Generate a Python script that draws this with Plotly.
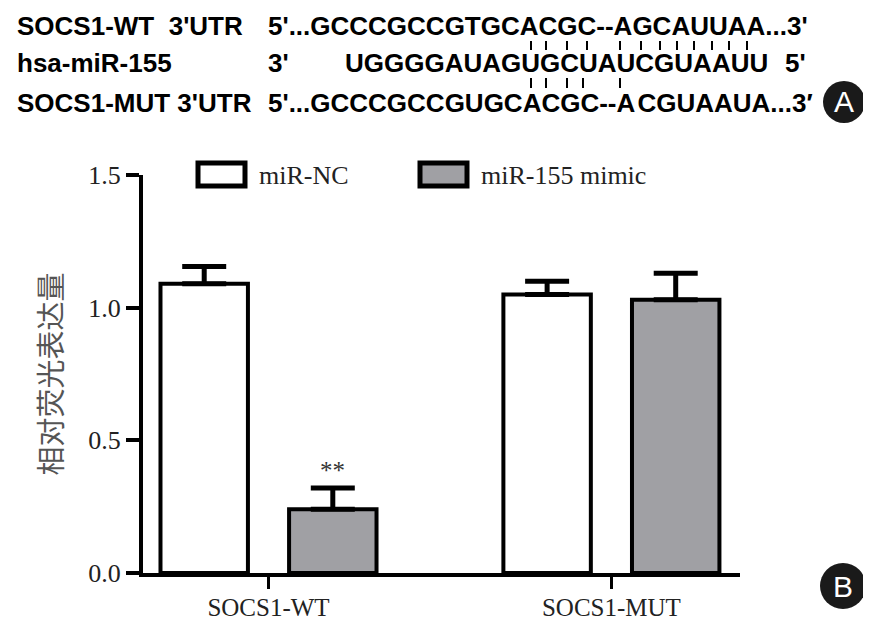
"""Люциферазный тест: SOCS1 3'UTR WT/MUT + miR-155 mimic."""

import plotly.graph_objects as go

categories = ["SOCS1-WT", "SOCS1-MUT"]
nc_mean = [1.09, 1.05]
nc_err = [0.065, 0.05]
mimic_mean = [0.24, 1.03]
mimic_err = [0.08, 0.10]
series_names = ["miR-NC", "miR-155 mimic"]
y_ticks = [0.0, 0.5, 1.0, 1.5]

row_labels = ["SOCS1-WT  3'UTR", "hsa-miR-155", "SOCS1-MUT 3'UTR"]
wt_seq = "5'...GCCCGCCGTGCACGC--AGCAUUAA...3'"
mir_seq = "UGGGGAUAGUGCUAUCGUAAUU"
mut_seq = "5'...GCCCGCCGUGCACGC--A\u200aCGUAAUA...3\u2032"

# у body margin 8px со всех сторон -> фигура на 16px меньше окна
OFF = 8
W, H = 871 - 2 * OFF, 632 - 2 * OFF
L, T = 143 - OFF, 175 - OFF
R, B = W - (740 - OFF), H - (573 - OFF)


def px(x):
    """x на странице -> paper"""
    return (x - OFF - L) / (W - L - R)


def py(y):
    return (H - B - (y - OFF)) / (H - T - B)


SERIF = "Liberation Serif, Times New Roman, serif"
SANS = "Liberation Sans, Arial, sans-serif"
GRAY = "#a0a0a4"

fig = go.Figure()
fig.add_trace(go.Bar(
    x=categories, y=nc_mean, name=series_names[0],
    marker={"color": "white", "line": {"color": "black", "width": 4}},
    error_y={"type": "data", "symmetric": False, "array": nc_err,
             "arrayminus": [0, 0], "color": "black", "thickness": 5, "width": 22},
))
fig.add_trace(go.Bar(
    x=categories, y=mimic_mean, name=series_names[1],
    marker={"color": GRAY, "line": {"color": "black", "width": 4}},
    error_y={"type": "data", "symmetric": False, "array": mimic_err,
             "arrayminus": [0, 0], "color": "black", "thickness": 5, "width": 22},
))

ann = []
shapes = []

# significance mark
ann.append(dict(x=0, y=mimic_mean[0] + mimic_err[0], xref="x", yref="y",
                xshift=64, yshift=2, yanchor="bottom", showarrow=False,
                text="**", font={"family": SERIF, "size": 25, "color": "#333"}))

# legend drawn by hand (boxes are wide rectangles)
for (x0, x1, tx), name, fill in zip(
        [(198, 245, 257), (420, 467, 479)], series_names, ["white", GRAY]):
    shapes.append(dict(type="rect", xref="paper", yref="paper",
                       x0=px(x0), x1=px(x1), y0=py(186), y1=py(163),
                       fillcolor=fill, line={"color": "black", "width": 5}))
    ann.append(dict(x=px(tx), y=py(175), xref="paper", yref="paper",
                    xanchor="left", yanchor="middle", showarrow=False, text=name,
                    font={"family": SERIF, "size": 26, "color": "#222"}))

# sequence alignment block
seq_font = {"family": SANS, "size": 26, "color": "black", "weight": "bold"}
row_y = [26, 63, 103]
for lab, yy in zip(row_labels, row_y):
    ann.append(dict(x=px(15), y=py(yy), xref="paper", yref="paper",
                    xanchor="left", yanchor="middle", showarrow=False,
                    text=lab, font=seq_font))
for txt, xx, yy in [(wt_seq, 266, row_y[0]), ("3'", 266, row_y[1]),
                    (mir_seq, 343, row_y[1]), ("5'", 783, row_y[1]),
                    (mut_seq, 266, row_y[2])]:
    ann.append(dict(x=px(xx), y=py(yy), xref="paper", yref="paper",
                    xanchor="left", yanchor="middle", showarrow=False,
                    text=txt, font=seq_font))

top_pairs = [531, 546, 567, 587, 620, 641, 660, 677, 694, 712, 729, 747]
bot_pairs = [531, 546, 567, 583, 620]
for xx in top_pairs:
    shapes.append(dict(type="line", xref="paper", yref="paper",
                       x0=px(xx), x1=px(xx), y0=py(41), y1=py(50),
                       line={"color": "black", "width": 2}))
for xx in bot_pairs:
    shapes.append(dict(type="line", xref="paper", yref="paper",
                       x0=px(xx), x1=px(xx), y0=py(78), y1=py(88),
                       line={"color": "black", "width": 2}))

# panel badges
for letter, cx, cy, r in [("A", 844, 102, 21), ("B", 843, 586, 23)]:
    shapes.append(dict(type="circle", xref="paper", yref="paper",
                       x0=px(cx - r), x1=px(cx + r), y0=py(cy + r), y1=py(cy - r),
                       fillcolor="#1a1a1a", line={"width": 0}))
    ann.append(dict(x=px(cx), y=py(cy), xref="paper", yref="paper",
                    xanchor="center", yanchor="middle", showarrow=False,
                    text=letter, font={"family": SANS, "size": 30, "color": "white"}))

fig.update_layout(
    width=W, height=H,
    template="plotly_white",
    paper_bgcolor="white", plot_bgcolor="white",
    margin={"l": L, "r": R, "t": T, "b": B},
    barmode="group", bargap=0.25, bargroupgap=0.32,
    showlegend=False,
    annotations=ann,
    shapes=shapes,
    xaxis={
        "range": [-0.366, 1.375], "automargin": False,
        "showgrid": False, "zeroline": False,
        "showline": True, "linecolor": "black", "linewidth": 4,
        "ticks": "outside", "ticklen": 12, "tickwidth": 3, "tickcolor": "black",
        "ticklabelstandoff": -3,
        "tickfont": {"family": SERIF, "size": 25, "color": "#222"},
    },
    yaxis={
        "range": [0, 1.5], "automargin": False,
        "tickvals": y_ticks, "tickformat": ".1f",
        "showgrid": False, "zeroline": False,
        "showline": True, "linecolor": "black", "linewidth": 4,
        "ticks": "outside", "ticklen": 13, "tickwidth": 4, "tickcolor": "black",
        "tickfont": {"family": SERIF, "size": 26, "color": "#222"},
        "title": {"text": "相对荧光表达量", "standoff": 18,
                  "font": {"family": "Noto Sans CJK SC", "size": 29, "color": "#555"}},
    },
)

fig.write_html("out.html")
